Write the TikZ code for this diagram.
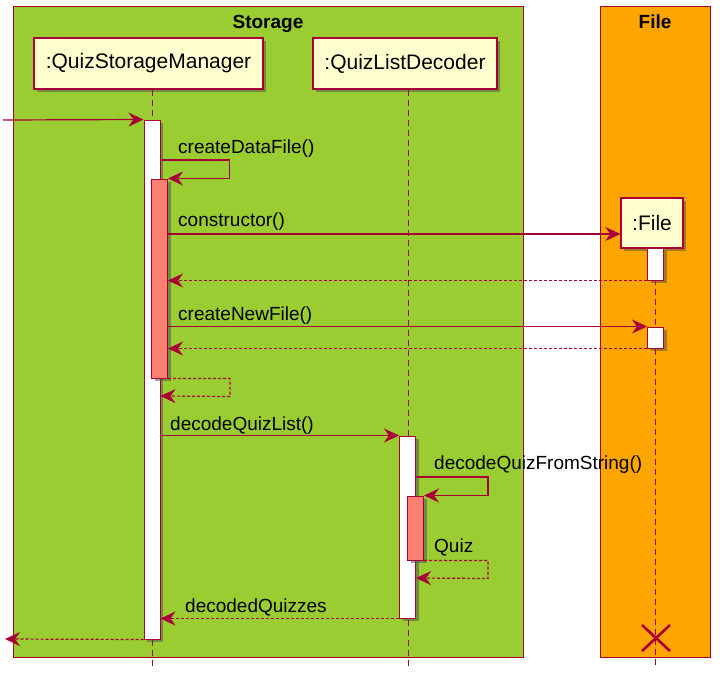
\documentclass[tikz,border=0pt]{standalone}
\usepackage{fontspec}
\setmainfont{Liberation Sans}
\usetikzlibrary{arrows.meta,shadows}
\definecolor{umlred}{HTML}{A80036}
\definecolor{umlyellow}{HTML}{FEFECE}
\definecolor{storagegreen}{HTML}{9ACD32}
\definecolor{fileorange}{HTML}{FFA500}
\definecolor{actsalmon}{HTML}{FA8072}
\begin{document}
\begin{tikzpicture}[x=1pt,y=-1pt,
    shade/.style={drop shadow={shadow xshift=3pt,shadow yshift=-3pt,opacity=0.5,fill=black!70}},
    box/.style={draw=umlred,line width=0.8pt},
    title/.style={anchor=base,inner sep=0pt,font=\fontsize{19}{23}\selectfont\bfseries},
    part/.style={draw=umlred,fill=umlyellow,line width=1.4pt,inner sep=0pt,shade,
                 font=\fontsize{21}{25}\selectfont},
    act/.style={draw=umlred,line width=1pt,inner sep=0pt,minimum width=16pt,shade},
    life/.style={umlred,line width=1pt,dash pattern=on 6pt off 4pt},
    msg/.style={umlred,line width=1.2pt,-{Stealth[length=15pt,width=14pt,inset=5pt]}},
    ret/.style={msg,dash pattern=on 3pt off 2pt},
    lbl/.style={anchor=base west,inner sep=0pt,font=\fontsize{19}{23}\selectfont}]%{{{
\useasboundingbox (0,0) rectangle (725,683);
%
% Boxes
\draw [box,fill=storagegreen] (13,6) rectangle (523,657);
\draw [box,fill=fileorange]   (600,6) rectangle (710,657);
\node [title] (storageTitle) at (268,28) {Storage};
\node [title] (fileTitle)    at (655,28) {File};
%
% Participants
\node [part,minimum width=229pt,minimum height=51pt] (qsm)  at (148.5,63.5) {:QuizStorageManager};
\node [part,minimum width=184pt,minimum height=51pt] (qld)  at (405,63.5)   {:QuizListDecoder};
\node [part,minimum width=62pt, minimum height=50pt] (file) at (652,223)    {:File};
%
% Lifelines
\coordinate (qsmEnd)  at (152,666);
\coordinate (qldEnd)  at (408,666);
\coordinate (fileEnd) at (655,666);
\foreach \p in {qsm,qld,file} \draw [life] (\p.south -| \p End) -- (\p End);
%
% Activations
\node [act,fill=white,minimum height=519pt]     (qsmAct)   at (152,379.5) {};
\node [act,fill=actsalmon,minimum height=199pt] (qsmSub)   at (159.5,278.5) {};
\node [act,fill=white,minimum height=32pt]      (fileAct1) at (655.5,264) {};
\node [act,fill=white,minimum height=21pt]      (fileAct2) at (655.5,337.5) {};
\node [act,fill=white,minimum height=182pt]     (qldAct)   at (407.5,527) {};
\node [act,fill=actsalmon,minimum height=64pt]  (qldSub)   at (415.5,528) {};
%
% Messages
\coordinate (in)  at (3,120);
\coordinate (out) at (5,639);
\draw [msg] (in) -- (qsmAct.north west);
\draw [msg] (qsmAct.east |- 0,160) -- ++(69,0) |- (qsmSub.north east);
\node [lbl] (lCreateData) at (178,153) {createDataFile()};
\draw [msg] (qsmSub.east |- 0,234) -- (file.west |- 0,234);
\node [lbl] (lConstructor) at (178,226) {constructor()};
\draw [ret] (fileAct1.south west) -- (qsmSub.east |- fileAct1.south west);
\draw [msg] (qsmSub.east |- fileAct2.north west) -- (fileAct2.north west);
\node [lbl] (lCreateNew) at (178,320) {createNewFile()};
\draw [ret] (fileAct2.south west) -- (qsmSub.east |- fileAct2.south west);
\draw [ret] (qsmSub.south east) -- ++(62,0) -- ++(0,18) -- (qsmAct.east |- 0,396);
\draw [msg] (qsmAct.east |- qldAct.north west) -- (qldAct.north west);
\node [lbl] (lDecodeList) at (170,430) {decodeQuizList()};
\draw [msg] (qldAct.east |- 0,477) -- ++(72,0) |- (qldSub.north east);
\node [lbl] (lDecodeQuiz) at (434,469) {decodeQuizFromString()};
\draw [ret] (qldSub.south east) -- ++(64,0) -- ++(0,18) -- (qldAct.east |- 0,578);
\node [lbl] (lQuiz) at (434,552) {Quiz};
\draw [ret] (qldAct.south west) -- (qsmAct.east |- qldAct.south west);
\node [lbl] (lDecoded) at (185,612) {decodedQuizzes};
\draw [ret] (qsmAct.south west) -- (out);
%
% Destroy
\coordinate (destroy) at (656,638);
\draw [umlred,line width=2.6pt]
      (destroy) ++(-14,-13) -- ++(28,26)
      (destroy) ++(14,-13)  -- ++(-28,26);
%
\end{tikzpicture}
\end{document}
